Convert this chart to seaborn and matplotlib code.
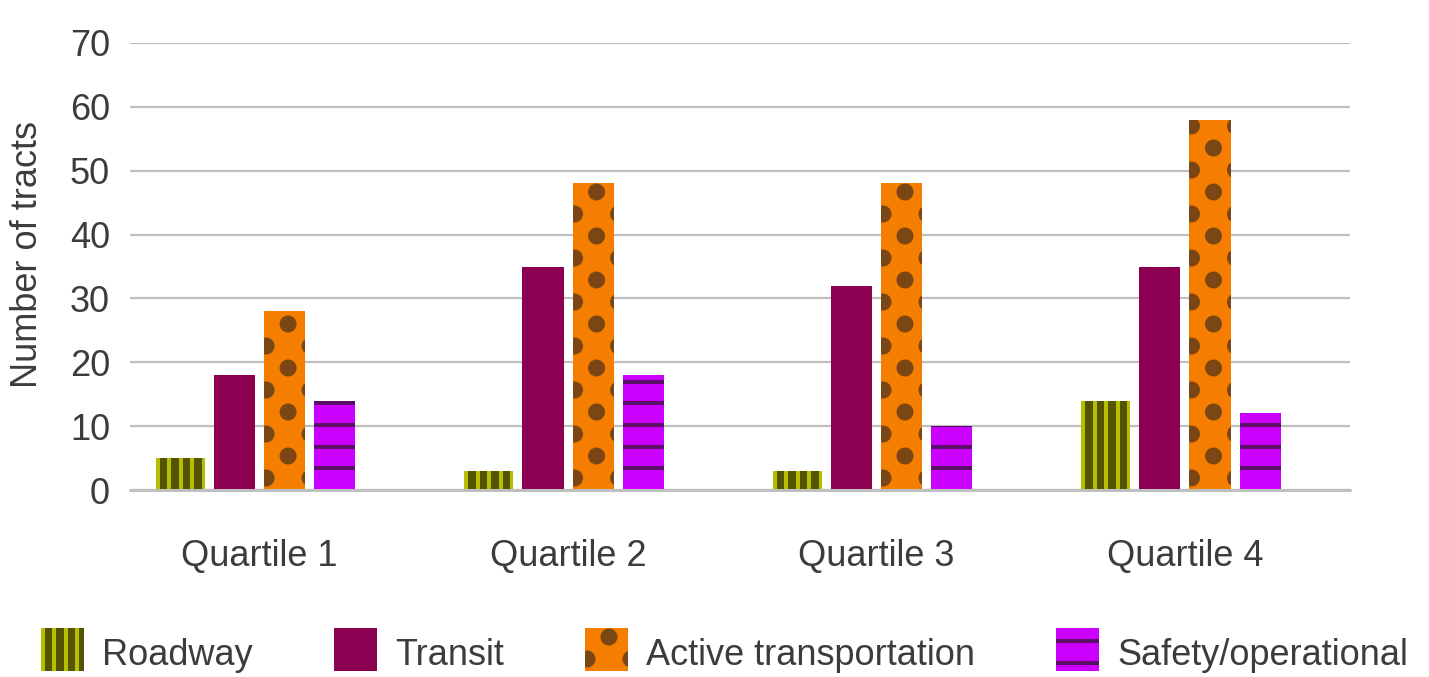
import matplotlib.pyplot as plt
import pandas as pd
import seaborn as sns
from matplotlib.patches import Rectangle, Ellipse

# %%
quartiles = ["Quartile 1", "Quartile 2", "Quartile 3", "Quartile 4"]
categories = ["Roadway", "Transit", "Active transportation", "Safety/operational"]
roadway = [5, 3, 3, 14]
transit = [18, 35, 32, 35]
active = [28, 48, 48, 58]
safety = [14, 18, 10, 12]
yticks = [0, 10, 20, 30, 40, 50, 60, 70]

base_colors = ["#b5be00", "#8b0050", "#f57d00", "#cc00ff"]
ink_colors = ["#545400", None, "#7a4614", "#5a1068"]
patterns = ["vstripe", None, "dots", "hstripe"]
text_col = "#3c3c3c"
grid_col = "#bfbfbf"


# %%
def pattern_pieces(kind, x0, y0, w, h, sx, sy, ink, start=21.7):
    # sizes are in pixels, sx / sy turn pixels into the target units
    pieces = []
    if kind == "vstripe":
        for k in range(int(w / (11.5 * sx)) + 2):
            pieces.append(Rectangle((x0 + (4 + 11.5 * k) * sx, y0), 7.5 * sx, h, color=ink, lw=0))
    elif kind == "hstripe":
        k = 0
        while (start + 21.7 * k - 2) * sy < h:
            pieces.append(Rectangle((x0, y0 + (start + 21.7 * k - 2) * sy), w, 4 * sy, color=ink, lw=0))
            k += 1
    elif kind == "dots":
        for r in range(int(h / (22 * sy)) + 2):
            cy = y0 + (12 + 22 * r) * sy
            for cx in ([2, 46] if r % 2 == 0 else [24]):
                pieces.append(Ellipse((x0 + cx * sx, cy), 17 * sx, 17 * sy, color=ink, lw=0))
    return pieces


class PatternKey:
    def __init__(self, kind, base, ink):
        self.kind, self.base, self.ink = kind, base, ink


class PatternHandler:
    def legend_artist(self, legend, orig_handle, fontsize, handlebox):
        x0, y0 = -handlebox.xdescent, -handlebox.ydescent
        w, h = handlebox.width, handlebox.height + handlebox.ydescent
        rect = Rectangle((x0, y0), w, h, facecolor=orig_handle.base, lw=0,
                         transform=handlebox.get_transform())
        handlebox.add_artist(rect)
        if orig_handle.kind is not None:
            for p in pattern_pieces(orig_handle.kind, x0, y0, w, h, 0.72, 0.72, orig_handle.ink, start=8):
                p.set_transform(handlebox.get_transform())
                handlebox.add_artist(p)
                p.set_clip_path(rect)
        return rect


# %%
df = pd.DataFrame({
    "Quartile": quartiles * len(categories),
    "Type": [c for c in categories for _ in quartiles],
    "Tracts": roadway + transit + active + safety,
})

sns.set_style("white")
plt.rcParams["font.family"] = ["Liberation Sans", "DejaVu Sans"]

fig, ax = plt.subplots(figsize=(14.29, 6.77), dpi=100)
fig.subplots_adjust(left=130 / 1429, right=1350 / 1429, bottom=187 / 677, top=634 / 677)

sns.barplot(
    data=df,
    x="Quartile",
    y="Tracts",
    hue="Type",
    hue_order=categories,
    palette=base_colors,
    saturation=1,
    width=0.65,
    gap=0.18,
    linewidth=0,
    errorbar=None,
    legend=False,
    ax=ax,
)

xmin, xmax = -0.42, 3.535
ax.set_xlim(xmin, xmax)
ax.set_ylim(0, 70)
ax.set_yticks(yticks)
ax.set_xlabel("")
ax.set_ylabel("Number of tracts", fontsize=26, color=text_col)
ax.yaxis.set_label_coords(-0.07, 0.526)
ax.tick_params(axis="y", length=0, pad=14.4, labelsize=26, labelcolor=text_col)
ax.tick_params(axis="x", length=0, pad=35, labelsize=26, labelcolor=text_col)
sns.despine(ax=ax, left=True, bottom=True)
ax.set_axisbelow(True)
ax.yaxis.grid(True, color=grid_col, lw=1.6)
ax.axhline(0, color=grid_col, lw=2.2, zorder=3, clip_on=False)

# roadway bars are a little wider on the left in the original
for bar in ax.containers[0]:
    w = bar.get_width()
    bar.set_x(bar.get_x() - 0.2 * w)
    bar.set_width(1.2 * w)

ppx = ax.bbox.width / (xmax - xmin)
ppy = ax.bbox.height / 70
for cont, kind, ink in zip(ax.containers, patterns, ink_colors):
    if kind is None:
        continue
    for bar in cont:
        for p in pattern_pieces(kind, bar.get_x(), 0, bar.get_width(), bar.get_height(), 1 / ppx, 1 / ppy, ink):
            ax.add_patch(p)
            p.set_clip_path(bar)
            p.set_zorder(bar.get_zorder() + 0.1)
ax.set_xlim(xmin, xmax)
ax.set_ylim(0, 70)

handles = [PatternKey(k, b, i) for k, b, i in zip(patterns, base_colors, ink_colors)]
fig.legend(
    handles,
    categories,
    handler_map={PatternKey: PatternHandler()},
    loc="center",
    bbox_to_anchor=(0.507, 0.0347),
    ncol=4,
    frameon=False,
    fontsize=26,
    labelcolor=text_col,
    handlelength=1.19,
    handleheight=1.19,
    handletextpad=0.5,
    columnspacing=2.25,
    borderpad=0,
)

fig.savefig("out.png", dpi=100)
